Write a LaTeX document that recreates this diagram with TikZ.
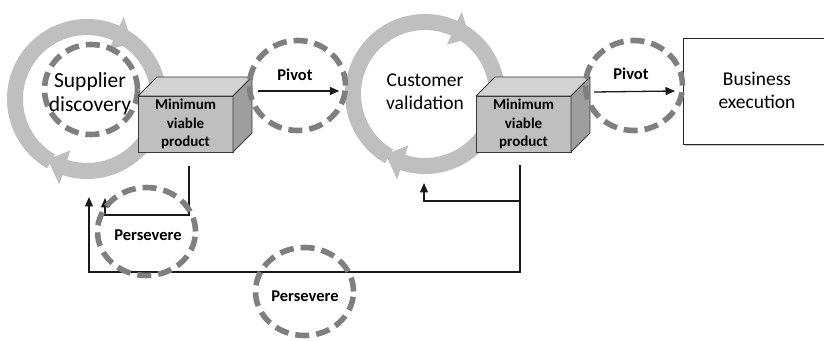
\documentclass[tikz,border=0pt]{standalone}
\usepackage{fontspec}
\setmainfont{Carlito}
\usetikzlibrary{arrows.meta,shapes.geometric}

\definecolor{ringgray}{HTML}{BFBFBF}
\definecolor{dashgray}{HTML}{7F7F7F}
\definecolor{boxfront}{HTML}{BFBFBF}
\definecolor{boxtop}{HTML}{D2D2D2}
\definecolor{boxside}{HTML}{9E9E9E}
\definecolor{boxedge}{HTML}{3A3A3A}
\definecolor{linecol}{HTML}{1A1A1A}

% two clockwise block arcs, each ending in an arrowhead
\newcommand{\cyclering}[2]{%
  \begin{scope}[shift={(#1,#2)}]
    \fill[ringgray] (240:64) arc[start angle=240,end angle=66,radius=64]
      -- (66:54) -- (51:72) -- (66:90) -- (66:80)
      arc[start angle=66,end angle=240,radius=80] -- cycle;
    \fill[ringgray] (60:64) arc[start angle=60,end angle=-108,radius=64]
      -- (-108:54) -- (-123:72) -- (-108:90) -- (-108:80)
      arc[start angle=-108,end angle=60,radius=80] -- cycle;
  \end{scope}}

\tikzset{
  dashring/.style={draw=dashgray, line width=5.6pt, dash pattern=on 14pt off 7pt,
    ellipse, minimum width=96pt, minimum height=90pt, inner sep=0pt},
  ringnode/.style={circle, minimum size=160pt, inner sep=0pt},
  phase/.style={font=\fontsize{19.5}{23.5}\selectfont, align=center, text=black},
  mvpfront/.style={draw=boxedge, fill=boxfront, line width=0.8pt,
    minimum width=95pt, minimum height=56pt, inner sep=0pt, outer sep=0pt,
    align=center, font=\bfseries\fontsize{15}{18.5}\selectfont},
  facetop/.style={fill=boxtop, draw=boxedge, line width=0.8pt, line join=round},
  faceside/.style={fill=boxside, draw=boxedge, line width=0.8pt, line join=round},
  lbl/.style={font=\bfseries\fontsize{16.5}{19}\selectfont, text=black},
  conn/.style={draw=linecol, line width=1.3pt},
  arr/.style={conn, -{Triangle[width=8pt,length=9.5pt]}},
  bizbox/.style={draw=black!85, fill=white, line width=0.8pt,
    minimum width=148pt, minimum height=106pt, inner sep=0pt, outer sep=0pt}
}

\begin{document}
\begin{tikzpicture}[x=1pt,y=1pt]
  \useasboundingbox (0,0) rectangle (824,340);
  \clip (0,0) rectangle (824,340);
  \fill[white] (0,0) rectangle (824,340);

  % cycle rings
  \cyclering{87}{241}
  \cyclering{425}{246}
  \node[ringnode] (sd) at (87,241) {};
  \node[ringnode] (cv) at (425,246) {};

  % supplier discovery loop
  \node[dashring, minimum width=93pt] (sdloop) at (91,250.5) {};
  \node[phase, font=\fontsize{21.5}{24}\selectfont] (sdtext) at (90,246) {Supplier\\discovery};
  \node[phase] (cvtext) at (425,248.5) {Customer\\validation};

  % minimum viable product boxes
  \foreach \b/\cx in {mvp1/185.5, mvp2/523.5}{
    \node[mvpfront] (\b) at (\cx,216) {};
    \filldraw[facetop] (\b.north west) -- ++(19,19) -- ([shift={(19,19)}]\b.north east)
      -- (\b.north east) -- cycle;
    \filldraw[faceside] (\b.north east) -- ++(19,19) -- ([shift={(19,19)}]\b.south east)
      -- (\b.south east) -- cycle;
    \node[mvpfront, draw=none, fill=none] at (\b) {Minimum\\viable\\product};
  }

  % business execution
  \fill[black, opacity=0.22] (685,194) rectangle (833,300);
  \node[bizbox] (be) at (757,249) {};
  \node[phase] (betext) at (757,249.5) {Business\\execution};

  % pivot loops
  \node[dashring] (pv1) at (297.5,254.5) {};
  \node[dashring, minimum width=97pt] (pv2) at (634,254.5) {};
  \node[lbl] at (295,265) {Pivot};
  \node[lbl] at (631,266) {Pivot};
  \draw[arr] ([shift={(25,5)}]mvp1.north east) -- ([shift={(-5.5,3)}]cv.west);
  \draw[arr] ([shift={(23,4)}]mvp2.north east) -- ([shift={(-8,0)}]be.west);

  % persevere feedback
  \coordinate (sdin) at (105,142);
  \coordinate (sdin2) at (89,143);
  \coordinate (cvin) at (424,157);
  \coordinate (m1out) at ([shift={(3.5,-14)}]mvp1.south);
  \coordinate (m2out) at ([shift={(-3.5,-13)}]mvp2.south);
  \draw[arr] (m1out) -- ++(0,-49) -| (sdin);
  \draw[arr] (m2out) -- ++(0,-107) -| (sdin2);
  \draw[arr] ([yshift=-36pt]m2out) -| (cvin);

  \node[dashring, minimum width=98pt, minimum height=88pt] (ps1) at (146.5,108.5) {};
  \node[dashring, minimum width=98pt, minimum height=88pt] (ps2) at (304.5,48.5) {};
  \node[lbl] at (148,105) {Persevere};
  \node[lbl] at (305,44) {Persevere};
\end{tikzpicture}
\end{document}
